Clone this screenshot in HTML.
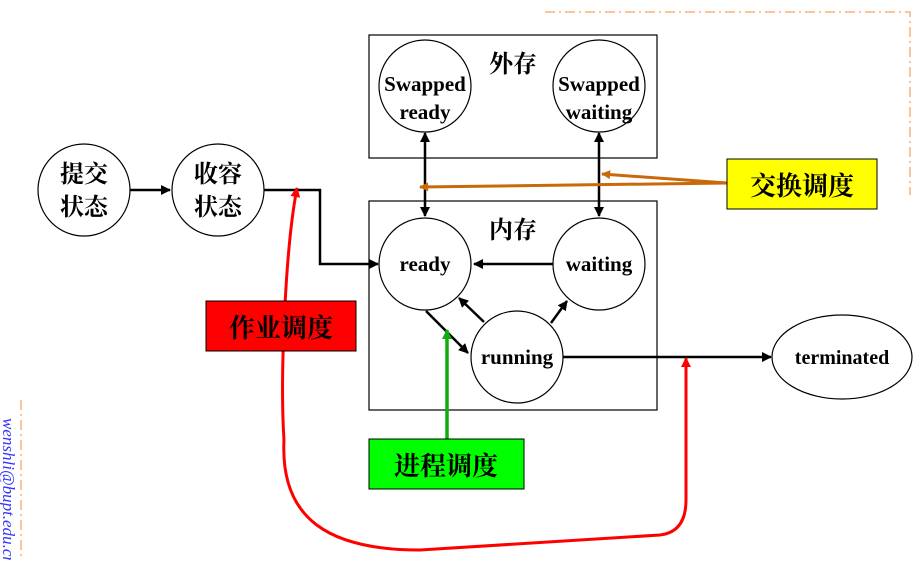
<!DOCTYPE html>
<html><head><meta charset="utf-8"><style>
body{margin:0;background:#fff;width:918px;height:560px;overflow:hidden}
text{font-family:"Liberation Serif","Noto Serif CJK SC",serif;font-weight:bold}
</style></head><body>
<svg width="918" height="560" xmlns="http://www.w3.org/2000/svg">
<defs>
<marker id="a" viewBox="0 0 10 10" refX="9" refY="5" markerWidth="10" markerHeight="10" orient="auto-start-reverse" markerUnits="userSpaceOnUse"><path d="M0,0L10,5L0,10z" fill="#000"/></marker>
<marker id="o" viewBox="0 0 10 10" refX="9" refY="5" markerWidth="11" markerHeight="9" orient="auto" markerUnits="userSpaceOnUse"><path d="M0,0L10,5L0,10z" fill="#c8690a"/></marker>
<marker id="r" viewBox="0 0 10 10" refX="9" refY="5" markerWidth="11" markerHeight="10" orient="auto" markerUnits="userSpaceOnUse"><path d="M0,0L10,5L0,10z" fill="#f00"/></marker>
<marker id="g" viewBox="0 0 10 10" refX="9" refY="5" markerWidth="11" markerHeight="10" orient="auto" markerUnits="userSpaceOnUse"><path d="M0,0L10,5L0,10z" fill="#1a1"/></marker>
</defs>
<path d="M545,12H910V195" fill="none" stroke="#f8b27a" stroke-width="1.5" stroke-dasharray="10,4,2,4"/>
<path d="M21,400V560" fill="none" stroke="#f8b27a" stroke-width="1.5" stroke-dasharray="10,4,2,4"/>
<text transform="translate(3,418) rotate(90)" font-size="17" fill="#33f" style="font-style:italic;font-weight:normal">wenshli@bupt.edu.cn</text>
<rect x="369" y="35" width="288" height="123" fill="none" stroke="#000" stroke-width="1.2"/>
<rect x="369" y="201" width="288" height="209" fill="none" stroke="#000" stroke-width="1.2"/>
<text x="513" y="72" font-size="24" text-anchor="middle">外存</text>
<text x="513" y="238" font-size="24" text-anchor="middle">内存</text>
<g fill="#fff" stroke="#000" stroke-width="1.2">
<circle cx="425" cy="86" r="46"/><circle cx="599" cy="86" r="46"/>
<circle cx="425" cy="264" r="46"/><circle cx="599" cy="264" r="46"/><circle cx="517" cy="357" r="46"/>
<circle cx="84" cy="190" r="46"/><circle cx="218" cy="190" r="46"/>
<ellipse cx="842" cy="357" rx="70" ry="42"/>
</g>
<g font-size="21" text-anchor="middle">
<text x="425" y="91">Swapped</text><text x="425" y="119">ready</text>
<text x="599" y="91">Swapped</text><text x="599" y="119">waiting</text>
<text x="425" y="271">ready</text><text x="599" y="271">waiting</text><text x="517" y="364">running</text>
<text x="842" y="364" font-size="20">terminated</text>
</g>
<g font-size="24" text-anchor="middle">
<text x="84" y="182">提交</text><text x="84" y="215">状态</text>
<text x="218" y="182">收容</text><text x="218" y="215">状态</text>
</g>
<g stroke="#000" stroke-width="2.5" fill="none">
<path d="M130,190H170" marker-end="url(#a)"/>
<path d="M264,190H320V264H378" marker-end="url(#a)"/>
<path d="M425,133V216" marker-end="url(#a)" marker-start="url(#a)"/>
<path d="M599,133V216" marker-end="url(#a)" marker-start="url(#a)"/>
<path d="M553,264H474" marker-end="url(#a)"/>
<path d="M426,311L468,353" marker-end="url(#a)"/>
<path d="M484,322L459,298" marker-end="url(#a)"/>
<path d="M551,323L567,301" marker-end="url(#a)"/>
<path d="M563,357H771" marker-end="url(#a)"/>
</g>
<path d="M727,183L602,174" stroke="#c8690a" stroke-width="3" fill="none" marker-end="url(#o)"/>
<path d="M727,183L420,187" stroke="#c8690a" stroke-width="3" fill="none" marker-end="url(#o)"/>
<path d="M447,439V330" stroke="#1a1" stroke-width="3.5" fill="none" marker-end="url(#g)"/>
<path d="M284,440C280,520 330,550 420,550L660,535Q686,532 686,500V358" stroke="#f00" stroke-width="3" fill="none" marker-end="url(#r)"/>
<path d="M284,440C280,380 285,250 297,188" stroke="#f00" stroke-width="3" fill="none" marker-end="url(#r)"/>
<rect x="727" y="159" width="150" height="50" fill="#ff0" stroke="#000"/>
<text x="802" y="195" font-size="26" text-anchor="middle">交换调度</text>
<rect x="206" y="301" width="150" height="50" fill="#f00" stroke="#000"/>
<text x="281" y="337" font-size="26" text-anchor="middle">作业调度</text>
<rect x="369" y="439" width="155" height="50" fill="#0f0" stroke="#000"/>
<text x="446" y="475" font-size="26" text-anchor="middle">进程调度</text>
</svg>
</body></html>
